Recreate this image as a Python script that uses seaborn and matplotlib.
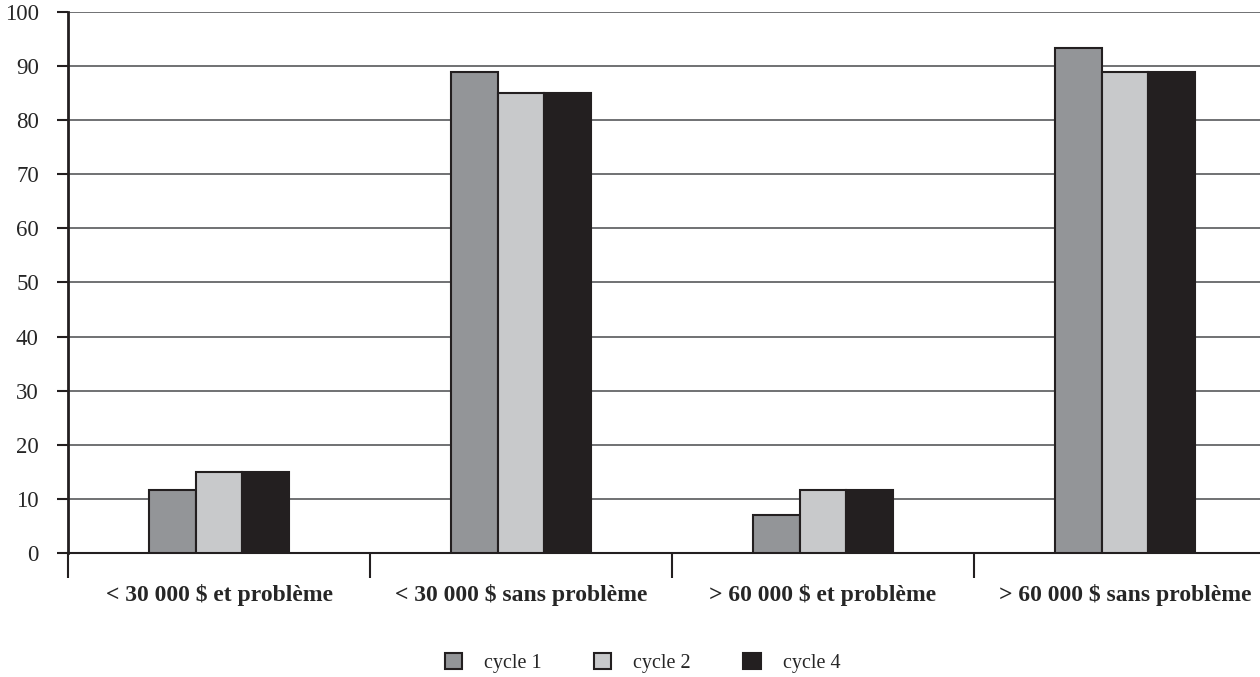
import matplotlib
matplotlib.use("Agg")
import matplotlib.pyplot as plt
import seaborn as sns
import pandas as pd

# data
categories = ["< 30 000 $ et problème", "< 30 000 $ sans problème",
              "> 60 000 $ et problème", "> 60 000 $ sans problème"]
series = ["cycle 1", "cycle 2", "cycle 4"]
cycle1 = [11.6, 88.9, 7.0, 93.3]
cycle2 = [15.0, 85.1, 11.6, 88.9]
cycle4 = [15.0, 85.1, 11.6, 88.9]
colors = ["#939598", "#c8c9cb", "#231f20"]
y_ticks = [0, 10, 20, 30, 40, 50, 60, 70, 80, 90, 100]

df = pd.DataFrame({
    "cat": categories * 3,
    "cycle": [s for s in series for _ in categories],
    "val": cycle1 + cycle2 + cycle4,
})

sns.set_style("white")
plt.rcParams["font.family"] = ["Liberation Serif", "DejaVu Serif"]

fig = plt.figure(figsize=(12.6, 6.77), dpi=100)
ax = fig.add_axes([68 / 1260, 124 / 677, 1208 / 1260, 541 / 677])

sns.barplot(data=df, x="cat", y="val", hue="cycle", order=categories,
            hue_order=series, palette=colors, width=0.465,
            edgecolor="#231f20", linewidth=1.5, saturation=1,
            errorbar=None, legend=False, ax=ax, zorder=3)

ax.set_xlim(-0.5, 3.5)
ax.set_ylim(0, 100)
ax.set_yticks(y_ticks)
ax.yaxis.grid(True, color="#58595b", linewidth=1.2, zorder=0)
ax.set_axisbelow(True)
ax.tick_params(axis="y", length=8, width=1.5, color="#231f20",
               labelsize=16.5, pad=13, left=True)
ax.set_xticks(range(len(categories)))
ax.set_xticklabels(categories, fontsize=17, fontweight="bold")
ax.tick_params(axis="x", length=0, pad=22)
ax.set_xticks([-0.5, 0.5, 1.5, 2.5, 3.5], minor=True)
ax.tick_params(axis="x", which="minor", length=18, width=1.5,
               color="#231f20", bottom=True)
ax.set_xlabel("")
ax.set_ylabel("")

for side in ["top", "right"]:
    ax.spines[side].set_visible(False)
ax.spines["left"].set_linewidth(2)
ax.spines["left"].set_color("#231f20")
ax.spines["bottom"].set_linewidth(1.5)
ax.spines["bottom"].set_color("#231f20")

handles = [plt.Rectangle((0, 0), 1, 1, facecolor=c, edgecolor="#231f20", linewidth=1.5)
           for c in colors]
fig.legend(handles, series, loc="center", bbox_to_anchor=(0.51, 0.021),
           ncol=3, frameon=False, fontsize=14.5, handlelength=0.85,
           handleheight=0.85, columnspacing=2.6, handletextpad=1.1)

fig.savefig("out.png", dpi=100)
